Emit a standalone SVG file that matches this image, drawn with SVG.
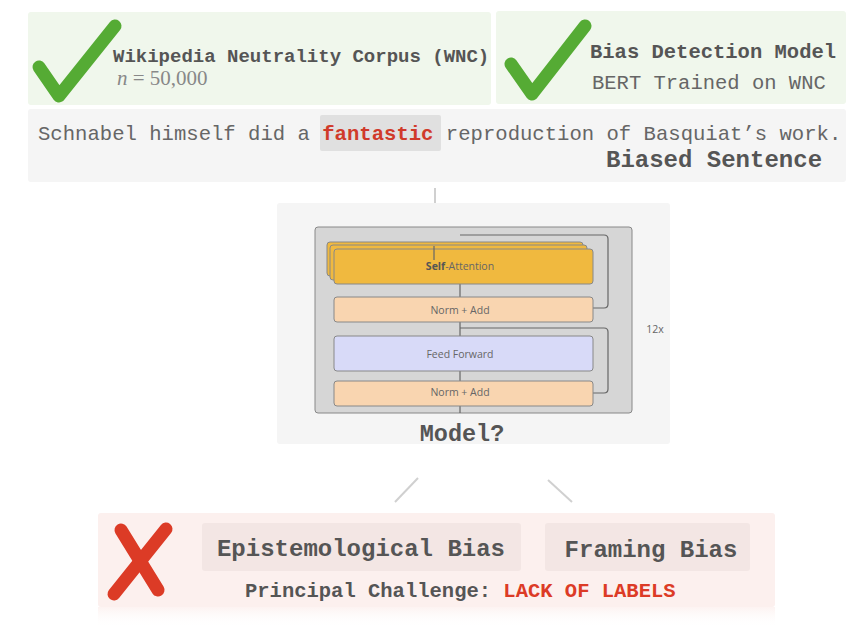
<svg xmlns="http://www.w3.org/2000/svg" width="864" height="628" viewBox="0 0 864 628">
<defs>
<style>
.mono{font-family:"Liberation Mono","Courier New",monospace;}
.b{font-weight:bold;}
.dark{fill:#555;}
.sans{font-family:"Open Sans","Liberation Sans",Arial,sans-serif;fill:#666;font-size:10.5px;text-anchor:middle;}
.ln{stroke:#666;stroke-width:1.2;fill:none;}
.conn{stroke:#d0d0d0;stroke-width:2;fill:none;}
.check{stroke:#55ab34;stroke-width:13;fill:none;stroke-linejoin:round;stroke-linecap:round;}
.cross{stroke:#dc3b26;stroke-width:13;fill:none;stroke-linecap:round;}
.layer{stroke:#888;stroke-width:1;}
</style>
<linearGradient id="fade" x1="0" y1="0" x2="0" y2="1">
<stop offset="0" stop-color="#fcf0ee" stop-opacity="0.8"/>
<stop offset="1" stop-color="#ffffff" stop-opacity="0"/>
</linearGradient>
</defs>
<rect width="864" height="628" fill="#fff"/>

<g id="wnc">
<rect x="28" y="12" width="463" height="93" rx="3" fill="#f0f7ec"/>
<polyline class="check" points="39,67 59,96 115,26"/>
<text class="mono b dark" x="113" y="62" font-size="19">Wikipedia Neutrality Corpus (WNC)</text>
<text x="117" y="85" font-family="Liberation Serif,serif" font-size="21" fill="#888"><tspan font-style="italic">n</tspan> = 50,000</text>
</g>

<g id="bias-model">
<rect x="496" y="11" width="350" height="93" rx="3" fill="#f0f7ec"/>
<polyline class="check" points="511,64 532,94 585,26"/>
<text class="mono b dark" x="590" y="58" font-size="20.5">Bias Detection Model</text>
<text class="mono" x="592" y="89" font-size="20.5" fill="#666">BERT Trained on WNC</text>
</g>

<g id="sentence">
<rect x="28" y="109" width="818" height="73" rx="3" fill="#f5f5f5"/>
<rect x="320" y="115" width="121" height="36" rx="2" fill="#e0e0e0"/>
<text class="mono" x="38" y="140" font-size="20.6" fill="#666">Schnabel himself did a <tspan class="b" fill="#d03a2a">fantastic</tspan> reproduction of Basquiat’s work.</text>
<text class="mono b dark" x="606" y="167" font-size="24">Biased Sentence</text>
</g>

<g id="connectors">
<line class="conn" x1="435" y1="188" x2="435" y2="217"/>
<line class="conn" x1="418" y1="478" x2="395" y2="502"/>
<line class="conn" x1="548" y1="480" x2="572" y2="502"/>
</g>

<g id="model">
<rect x="277" y="203" width="393" height="241" rx="3" fill="#f5f5f5"/>
<rect x="315" y="227" width="317" height="186" rx="3" fill="#d6d6d6" stroke="#888" stroke-width="1"/>
<path class="ln" d="M460,235 H604 Q608,235 608,239 V304 Q608,308 604,308 H593"/>
<path class="ln" d="M460,328 H604 Q608,328 608,332 V389 Q608,393 604,393 H593"/>
<line class="ln" x1="460" y1="284" x2="460" y2="297"/>
<line class="ln" x1="460" y1="322" x2="460" y2="336"/>
<line class="ln" x1="460" y1="371" x2="460" y2="381"/>
<line class="ln" x1="460" y1="406" x2="460" y2="413"/>
<rect class="layer" x="327" y="242" width="256" height="34" rx="3" fill="#f0b93f"/>
<rect class="layer" x="330" y="245" width="257" height="35" rx="3" fill="#f0b93f"/>
<rect class="layer" x="334" y="249" width="259" height="35" rx="3" fill="#f0b93f"/>
<line class="ln" x1="434" y1="246" x2="434" y2="260"/>
<text class="sans" x="460" y="270"><tspan font-weight="bold" fill="#555">Self</tspan>-Attention</text>
<rect class="layer" x="334" y="297" width="259" height="25" rx="3" fill="#f9d5b0"/>
<text class="sans" x="460" y="314">Norm + Add</text>
<rect class="layer" x="334" y="336" width="259" height="35" rx="3" fill="#d8daf8"/>
<text class="sans" x="460" y="358">Feed Forward</text>
<rect class="layer" x="334" y="381" width="259" height="25" rx="3" fill="#f9d5b0"/>
<text class="sans" x="460" y="396">Norm + Add</text>
<text class="sans" x="655" y="333">12x</text>
<text class="mono b dark" x="462" y="441" font-size="23.5" text-anchor="middle">Model?</text>
</g>

<g id="challenge">
<rect x="98" y="513" width="677" height="94" rx="3" fill="#fcf0ee"/>
<rect x="98" y="607" width="677" height="21" fill="url(#fade)"/>
<line class="cross" x1="121" y1="530" x2="158" y2="590"/>
<line class="cross" x1="166" y1="529" x2="114" y2="594"/>
<rect x="202" y="523" width="319" height="48" rx="3" fill="#f3e6e4"/>
<text class="mono b dark" x="361" y="556" font-size="24" text-anchor="middle">Epistemological Bias</text>
<rect x="545" y="523" width="205" height="48" rx="3" fill="#f3e6e4"/>
<text class="mono b dark" x="651" y="557" font-size="24" text-anchor="middle">Framing Bias</text>
<text class="mono b dark" x="245" y="597" font-size="20.5">Principal Challenge: <tspan fill="#dc3b26">LACK OF LABELS</tspan></text>
</g>
</svg>
